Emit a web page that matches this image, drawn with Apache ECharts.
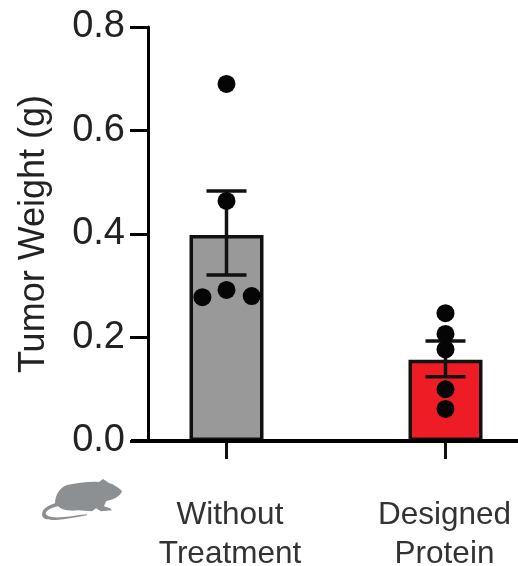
<!DOCTYPE html>
<html><head><meta charset="utf-8">
<style>html,body{margin:0;padding:0;background:#fff}#c{width:518px;height:566px}</style>
<script src="https://cdn.jsdelivr.net/npm/echarts@6/dist/echarts.min.js"></script>
</head><body><div id="c"></div>
<script>
const categories = ['Without\nTreatment', 'Designed\nProtein'];
const means = [0.398, 0.157];
const errorLow = [0.321, 0.124];
const errorHigh = [0.483, 0.193];
const barColors = ['#999999', '#ee1c25'];
const yTicks = { min: 0, max: 0.8, interval: 0.2 };
const withoutPoints = [[0, 0.69], [0, 0.464], [-0.11, 0.278], [0, 0.292], [0.115, 0.28]];
const designedPoints = [[1, 0.247], [1, 0.207], [1, 0.177], [1, 0.100], [1, 0.062]];
const mousePath = 'M122 491 C118 487 113 484 109 483 L103 479 L99 482 C90 481 78 483 67 485 C59 488 55 496 55 503 C49 505 42 508 42 514 C42 519 48 520 56 519.5 C66 519 76 517 87 515 L87 514 C76 515 64 517.5 54 517 C47 516.5 45 514 46 512 C48 509 53 507 58 506 C62 510 70 511 78 510 L92 511 L96 508 L101 511 L112 510 L110 508 L104 506 L106 501 C112 500 120 497 122 491 Z';

const FONT = '"Liberation Sans", Arial, sans-serif';
const chart = echarts.init(document.getElementById('c'), null, { renderer: 'canvas' });
chart.setOption({
  animation: false,
  backgroundColor: '#fff',
  grid: { left: 117, top: 27, width: 438, height: 414, containLabel: false, outerBoundsMode: 'none' },
  xAxis: [
    { type: 'category',
      data: categories.map((c, i) => i === 0 ? { value: c, textStyle: { padding: [0, 0, 0, 7] } } : { value: c, textStyle: { padding: [0, 2, 0, 0] } }),
      gridIndex: 0,
      axisLine: { show: false },
      axisTick: { show: true, alignWithLabel: true, length: 18, lineStyle: { color: '#111', width: 3 } },
      axisLabel: { color: '#333', fontFamily: FONT, fontSize: 31.5, lineHeight: 39, margin: 55, interval: 0 } },
    { type: 'value', min: -0.5, max: 1.5, gridIndex: 0, show: false }
  ],
  yAxis: [{
    type: 'value', min: yTicks.min, max: yTicks.max, interval: yTicks.interval, offset: -31,
    name: 'Tumor Weight (g)', nameLocation: 'middle', nameGap: 96, nameRotate: 90,
    nameTextStyle: { color: '#222', fontFamily: FONT, fontSize: 36, padding: [0, 0, 0, 0] },
    axisLine: { show: true, onZero: false, lineStyle: { color: '#000', width: 3 } },
    axisTick: { show: true, length: 18, lineStyle: { color: '#000', width: 3 } },
    axisLabel: { color: '#222', fontFamily: FONT, fontSize: 38, margin: 23, padding: [2, 0, 0, 0], formatter: v => v.toFixed(1) },
    splitLine: { show: false }
  }],
  series: [
    { type: 'bar', data: means.map((v, i) => ({ value: v, itemStyle: { color: barColors[i] } })),
      barWidth: 74, itemStyle: { borderColor: '#111', borderWidth: 3.5 }, z: 2 },
    { type: 'custom', data: categories.map((c, i) => [i, errorLow[i], errorHigh[i]]),
      encode: { x: 0, y: [1, 2] }, z: 3,
      renderItem: (p, api) => {
        const lo = api.coord([api.value(0), api.value(1)]);
        const hi = api.coord([api.value(0), api.value(2)]);
        const x = lo[0], cap = 20;
        const style = { stroke: '#111', lineWidth: 3.5, fill: null };
        return { type: 'group', children: [
          { type: 'line', shape: { x1: x, y1: lo[1], x2: x, y2: hi[1] }, style },
          { type: 'line', shape: { x1: x - cap, y1: lo[1], x2: x + cap, y2: lo[1] }, style },
          { type: 'line', shape: { x1: x - cap, y1: hi[1], x2: x + cap, y2: hi[1] }, style }
        ] };
      } },
    { type: 'scatter', xAxisIndex: 1, data: withoutPoints, symbolSize: 18, itemStyle: { color: '#050505', opacity: 1 }, z: 4 },
    { type: 'scatter', xAxisIndex: 1, data: designedPoints, symbolSize: 18, itemStyle: { color: '#050505', opacity: 1 }, z: 4 },
    { type: 'custom', coordinateSystem: 'none', data: [[0]], silent: true, z: 5,
      renderItem: () => ({
        type: 'path',
        shape: { pathData: mousePath, layout: 'cover', x: 42, y: 479, width: 80, height: 41 },
        style: { fill: '#8c9093' }
      }) }
  ],
  graphic: [
    { type: 'line', z: 20, shape: { x1: 131, y1: 441, x2: 518, y2: 441 }, style: { stroke: '#000', lineWidth: 4 } }
  ]
});
</script></body></html>
